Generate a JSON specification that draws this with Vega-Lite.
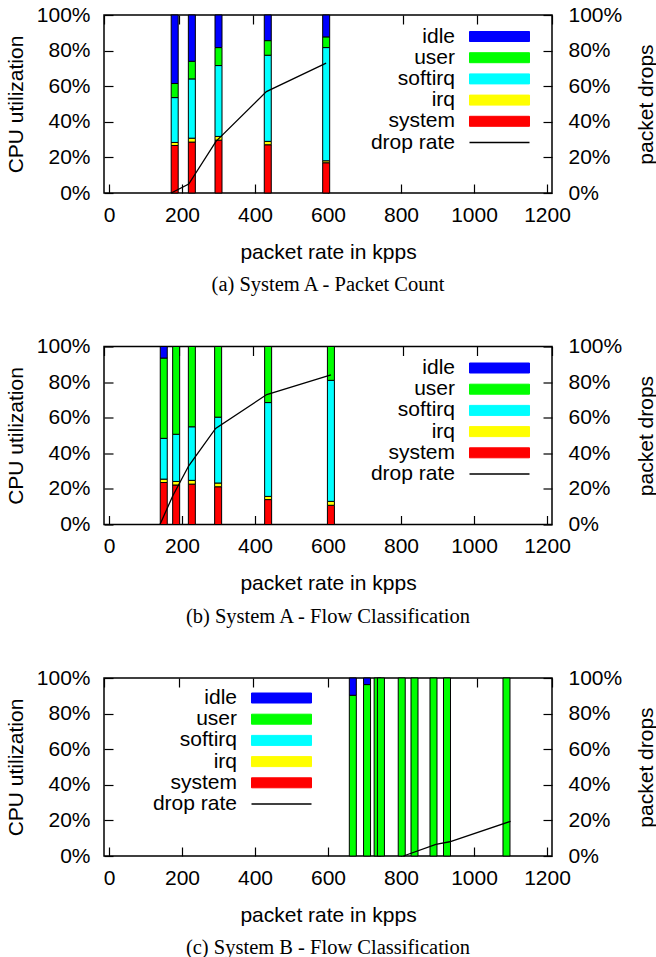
{
  "$schema": "https://vega.github.io/schema/vega-lite/v6.json",
  "autosize": {"type": "pad"},
  "padding": {"left": 4, "top": 3, "right": 0, "bottom": 0},
  "spacing": 37.5,
  "datasets": {
    "cpu_a_count": [
      {"kpps": 180, "state": "system", "share": 26.7},
      {"kpps": 180, "state": "irq", "share": 1.7},
      {"kpps": 180, "state": "softirq", "share": 25.2},
      {"kpps": 180, "state": "user", "share": 7.9},
      {"kpps": 180, "state": "idle", "share": 38.5},
      {"kpps": 227, "state": "system", "share": 28.6},
      {"kpps": 227, "state": "irq", "share": 2.2},
      {"kpps": 227, "state": "softirq", "share": 33.3},
      {"kpps": 227, "state": "user", "share": 9.9},
      {"kpps": 227, "state": "idle", "share": 26.0},
      {"kpps": 300, "state": "system", "share": 29.7},
      {"kpps": 300, "state": "irq", "share": 2.1},
      {"kpps": 300, "state": "softirq", "share": 39.8},
      {"kpps": 300, "state": "user", "share": 10.1},
      {"kpps": 300, "state": "idle", "share": 18.3},
      {"kpps": 435, "state": "system", "share": 27.1},
      {"kpps": 435, "state": "irq", "share": 1.9},
      {"kpps": 435, "state": "softirq", "share": 48.4},
      {"kpps": 435, "state": "user", "share": 8.2},
      {"kpps": 435, "state": "idle", "share": 14.4},
      {"kpps": 595, "state": "system", "share": 17.0},
      {"kpps": 595, "state": "irq", "share": 1.1},
      {"kpps": 595, "state": "softirq", "share": 63.6},
      {"kpps": 595, "state": "user", "share": 6.0},
      {"kpps": 595, "state": "idle", "share": 12.3}
    ],
    "drop_a_count": [
      {"kpps": 180, "drops": 0},
      {"kpps": 227, "drops": 5},
      {"kpps": 300, "drops": 29},
      {"kpps": 435, "drops": 57},
      {"kpps": 595, "drops": 73}
    ],
    "cpu_a_flow": [
      {"kpps": 150, "state": "system", "share": 23.6},
      {"kpps": 150, "state": "irq", "share": 1.9},
      {"kpps": 150, "state": "softirq", "share": 22.9},
      {"kpps": 150, "state": "user", "share": 45.1},
      {"kpps": 150, "state": "idle", "share": 6.5},
      {"kpps": 184, "state": "system", "share": 22.2},
      {"kpps": 184, "state": "irq", "share": 2.0},
      {"kpps": 184, "state": "softirq", "share": 26.5},
      {"kpps": 184, "state": "user", "share": 49.3},
      {"kpps": 227, "state": "system", "share": 22.7},
      {"kpps": 227, "state": "irq", "share": 2.1},
      {"kpps": 227, "state": "softirq", "share": 30.1},
      {"kpps": 227, "state": "user", "share": 45.1},
      {"kpps": 299, "state": "system", "share": 21.2},
      {"kpps": 299, "state": "irq", "share": 2.1},
      {"kpps": 299, "state": "softirq", "share": 37.0},
      {"kpps": 299, "state": "user", "share": 39.7},
      {"kpps": 436, "state": "system", "share": 14.0},
      {"kpps": 436, "state": "irq", "share": 1.8},
      {"kpps": 436, "state": "softirq", "share": 52.7},
      {"kpps": 436, "state": "user", "share": 31.5},
      {"kpps": 608, "state": "system", "share": 10.8},
      {"kpps": 608, "state": "irq", "share": 2.2},
      {"kpps": 608, "state": "softirq", "share": 68.0},
      {"kpps": 608, "state": "user", "share": 19.0}
    ],
    "drop_a_flow": [
      {"kpps": 150, "drops": 0},
      {"kpps": 184, "drops": 16},
      {"kpps": 227, "drops": 33},
      {"kpps": 299, "drops": 54},
      {"kpps": 436, "drops": 73},
      {"kpps": 608, "drops": 84}
    ],
    "cpu_b_flow": [
      {"kpps": 668, "state": "user", "share": 90.3},
      {"kpps": 668, "state": "idle", "share": 9.7},
      {"kpps": 707, "state": "user", "share": 96.3},
      {"kpps": 707, "state": "idle", "share": 3.7},
      {"kpps": 736, "state": "user", "share": 100},
      {"kpps": 745, "state": "user", "share": 100},
      {"kpps": 802, "state": "user", "share": 100},
      {"kpps": 837, "state": "user", "share": 100},
      {"kpps": 889, "state": "user", "share": 100},
      {"kpps": 926, "state": "user", "share": 100},
      {"kpps": 1089, "state": "user", "share": 100}
    ],
    "drop_b_flow": [
      {"kpps": 802, "drops": 0},
      {"kpps": 889, "drops": 6.5},
      {"kpps": 926, "drops": 8},
      {"kpps": 1089, "drops": 19.5}
    ]
  },
  "vconcat": [
    {
      "title": {"text": "(a) System A - Packet Count"},
      "width": 448,
      "height": 178,
      "resolve": {"scale": {"x": "independent", "y": "independent"}},
      "layer": [
        {
          "data": {"name": "cpu_a_count"},
          "transform": [{"calculate": "indexof(['system','irq','softirq','user','idle'], datum.state)", "as": "stack_rank"}],
          "mark": {"type": "bar", "size": 7, "stroke": "black", "strokeWidth": 1},
          "encoding": {
            "x": {"field": "kpps", "type": "quantitative", "scale": {"domain": [0, 1200], "nice": false},
                  "axis": {"orient": "bottom", "values": [0, 200, 400, 600, 800, 1000, 1200], "format": "d", "labelPadding": 20, "labelFlush": false, "labelOverlap": false, "title": "packet rate in kpps", "titlePadding": 16}},
            "y": {"field": "share", "type": "quantitative", "stack": "zero", "scale": {"domain": [0, 100], "nice": false},
                  "axis": {"orient": "left", "values": [0, 20, 40, 60, 80, 100], "labelExpr": "datum.value + '%'", "labelPadding": 23, "title": "CPU utilization", "titlePadding": 10}},
            "color": {"field": "state", "type": "nominal",
                      "scale": {"domain": ["idle", "user", "softirq", "irq", "system", "drop rate"], "range": ["#0000ff", "#00ff00", "#00ffff", "#ffff00", "#ff0000", "#000000"]},
                      "legend": {"orient": "none", "legendX": 385, "legendY": 11,
                        "encode": {"symbols": {"update": {
                          "shape": {"signal": "datum.value === 'drop rate' ? 'M-3,0H3' : 'M-3,-0.5H3V0.5H-3Z'"},
                          "fill": {"signal": "datum.value === 'idle' ? '#0000ff' : datum.value === 'user' ? '#00ff00' : datum.value === 'softirq' ? '#00ffff' : datum.value === 'irq' ? '#ffff00' : datum.value === 'system' ? '#ff0000' : 'transparent'"},
                          "stroke": {"value": "black"},
                          "strokeWidth": {"signal": "datum.value === 'drop rate' ? 1.3 : 1"}
                        }}}}},
            "order": {"field": "stack_rank", "type": "quantitative"}
          }
        },
        {
          "data": {"name": "drop_a_count"},
          "mark": {"type": "line", "strokeWidth": 1.3},
          "encoding": {
            "x": {"field": "kpps", "type": "quantitative", "scale": {"domain": [0, 1200], "nice": false},
                  "axis": {"orient": "top", "values": [0, 200, 400, 600, 800, 1000, 1200], "labels": false, "title": null}},
            "y": {"field": "drops", "type": "quantitative", "scale": {"domain": [0, 100], "nice": false},
                  "axis": {"orient": "right", "values": [0, 20, 40, 60, 80, 100], "labelExpr": "datum.value + '%'", "labelPadding": 25, "title": "packet drops", "titleAngle": 270, "titlePadding": 35}},
            "color": {"datum": "drop rate", "type": "nominal"}
          }
        }
      ]
    },
    {
      "title": {"text": "(b) System A - Flow Classification"},
      "width": 448,
      "height": 178,
      "resolve": {"scale": {"x": "independent", "y": "independent"}},
      "layer": [
        {
          "data": {"name": "cpu_a_flow"},
          "transform": [{"calculate": "indexof(['system','irq','softirq','user','idle'], datum.state)", "as": "stack_rank"}],
          "mark": {"type": "bar", "size": 7, "stroke": "black", "strokeWidth": 1},
          "encoding": {
            "x": {"field": "kpps", "type": "quantitative", "scale": {"domain": [0, 1200], "nice": false},
                  "axis": {"orient": "bottom", "values": [0, 200, 400, 600, 800, 1000, 1200], "format": "d", "labelPadding": 20, "labelFlush": false, "labelOverlap": false, "title": "packet rate in kpps", "titlePadding": 16}},
            "y": {"field": "share", "type": "quantitative", "stack": "zero", "scale": {"domain": [0, 100], "nice": false},
                  "axis": {"orient": "left", "values": [0, 20, 40, 60, 80, 100], "labelExpr": "datum.value + '%'", "labelPadding": 23, "title": "CPU utilization", "titlePadding": 10}},
            "color": {"field": "state", "type": "nominal",
                      "scale": {"domain": ["idle", "user", "softirq", "irq", "system", "drop rate"], "range": ["#0000ff", "#00ff00", "#00ffff", "#ffff00", "#ff0000", "#000000"]},
                      "legend": {"orient": "none", "legendX": 385, "legendY": 11,
                        "encode": {"symbols": {"update": {
                          "shape": {"signal": "datum.value === 'drop rate' ? 'M-3,0H3' : 'M-3,-0.5H3V0.5H-3Z'"},
                          "fill": {"signal": "datum.value === 'idle' ? '#0000ff' : datum.value === 'user' ? '#00ff00' : datum.value === 'softirq' ? '#00ffff' : datum.value === 'irq' ? '#ffff00' : datum.value === 'system' ? '#ff0000' : 'transparent'"},
                          "stroke": {"value": "black"},
                          "strokeWidth": {"signal": "datum.value === 'drop rate' ? 1.3 : 1"}
                        }}}}},
            "order": {"field": "stack_rank", "type": "quantitative"}
          }
        },
        {
          "data": {"name": "drop_a_flow"},
          "mark": {"type": "line", "strokeWidth": 1.3},
          "encoding": {
            "x": {"field": "kpps", "type": "quantitative", "scale": {"domain": [0, 1200], "nice": false},
                  "axis": {"orient": "top", "values": [0, 200, 400, 600, 800, 1000, 1200], "labels": false, "title": null}},
            "y": {"field": "drops", "type": "quantitative", "scale": {"domain": [0, 100], "nice": false},
                  "axis": {"orient": "right", "values": [0, 20, 40, 60, 80, 100], "labelExpr": "datum.value + '%'", "labelPadding": 25, "title": "packet drops", "titleAngle": 270, "titlePadding": 35}},
            "color": {"datum": "drop rate", "type": "nominal"}
          }
        }
      ]
    },
    {
      "title": {"text": "(c) System B - Flow Classification"},
      "width": 448,
      "height": 178,
      "resolve": {"scale": {"x": "independent", "y": "independent"}},
      "layer": [
        {
          "data": {"name": "cpu_b_flow"},
          "transform": [{"calculate": "indexof(['system','irq','softirq','user','idle'], datum.state)", "as": "stack_rank"}],
          "mark": {"type": "bar", "size": 7, "stroke": "black", "strokeWidth": 1},
          "encoding": {
            "x": {"field": "kpps", "type": "quantitative", "scale": {"domain": [0, 1200], "nice": false},
                  "axis": {"orient": "bottom", "values": [0, 200, 400, 600, 800, 1000, 1200], "format": "d", "labelPadding": 20, "labelFlush": false, "labelOverlap": false, "title": "packet rate in kpps", "titlePadding": 16}},
            "y": {"field": "share", "type": "quantitative", "stack": "zero", "scale": {"domain": [0, 100], "nice": false},
                  "axis": {"orient": "left", "values": [0, 20, 40, 60, 80, 100], "labelExpr": "datum.value + '%'", "labelPadding": 23, "title": "CPU utilization", "titlePadding": 10}},
            "color": {"field": "state", "type": "nominal",
                      "scale": {"domain": ["idle", "user", "softirq", "irq", "system", "drop rate"], "range": ["#0000ff", "#00ff00", "#00ffff", "#ffff00", "#ff0000", "#000000"]},
                      "legend": {"orient": "none", "legendX": 167, "legendY": 9.5,
                        "encode": {"symbols": {"update": {
                          "shape": {"signal": "datum.value === 'drop rate' ? 'M-3,0H3' : 'M-3,-0.5H3V0.5H-3Z'"},
                          "fill": {"signal": "datum.value === 'idle' ? '#0000ff' : datum.value === 'user' ? '#00ff00' : datum.value === 'softirq' ? '#00ffff' : datum.value === 'irq' ? '#ffff00' : datum.value === 'system' ? '#ff0000' : 'transparent'"},
                          "stroke": {"value": "black"},
                          "strokeWidth": {"signal": "datum.value === 'drop rate' ? 1.3 : 1"}
                        }}}}},
            "order": {"field": "stack_rank", "type": "quantitative"}
          }
        },
        {
          "data": {"name": "drop_b_flow"},
          "mark": {"type": "line", "strokeWidth": 1.3},
          "encoding": {
            "x": {"field": "kpps", "type": "quantitative", "scale": {"domain": [0, 1200], "nice": false},
                  "axis": {"orient": "top", "values": [0, 200, 400, 600, 800, 1000, 1200], "labels": false, "title": null}},
            "y": {"field": "drops", "type": "quantitative", "scale": {"domain": [0, 100], "nice": false},
                  "axis": {"orient": "right", "values": [0, 20, 40, 60, 80, 100], "labelExpr": "datum.value + '%'", "labelPadding": 25, "title": "packet drops", "titleAngle": 270, "titlePadding": 35}},
            "color": {"datum": "drop rate", "type": "nominal"}
          }
        }
      ]
    }
  ],
  "resolve": {"scale": {"color": "independent"}, "legend": {"color": "independent"}},
  "config": {
    "font": "Liberation Sans",
    "background": "white",
    "view": {"stroke": "black", "strokeWidth": 1.5},
    "axis": {
      "domain": false, "grid": false,
      "labelFont": "Liberation Sans", "titleFont": "Liberation Sans",
      "labelFontSize": 21, "titleFontSize": 21, "titleFontWeight": "normal",
      "labelColor": "black", "titleColor": "black",
      "tickColor": "black", "tickWidth": 1.2, "tickSize": -9
    },
    "legend": {
      "title": null,
      "padding": 0,
      "labelFont": "Liberation Sans", "labelFontSize": 21, "labelColor": "black",
      "labelAlign": "right", "labelOffset": -55,
      "symbolSize": 400, "symbolType": "M-3,-0.5H3V0.5H-3Z",
      "symbolStrokeColor": "black", "symbolStrokeWidth": 1, "symbolOpacity": 1,
      "rowPadding": -0.8
    },
    "title": {"font": "Liberation Serif", "fontSize": 20.5, "fontWeight": "normal", "color": "black", "orient": "bottom", "offset": 13, "anchor": "middle"}
  }
}
